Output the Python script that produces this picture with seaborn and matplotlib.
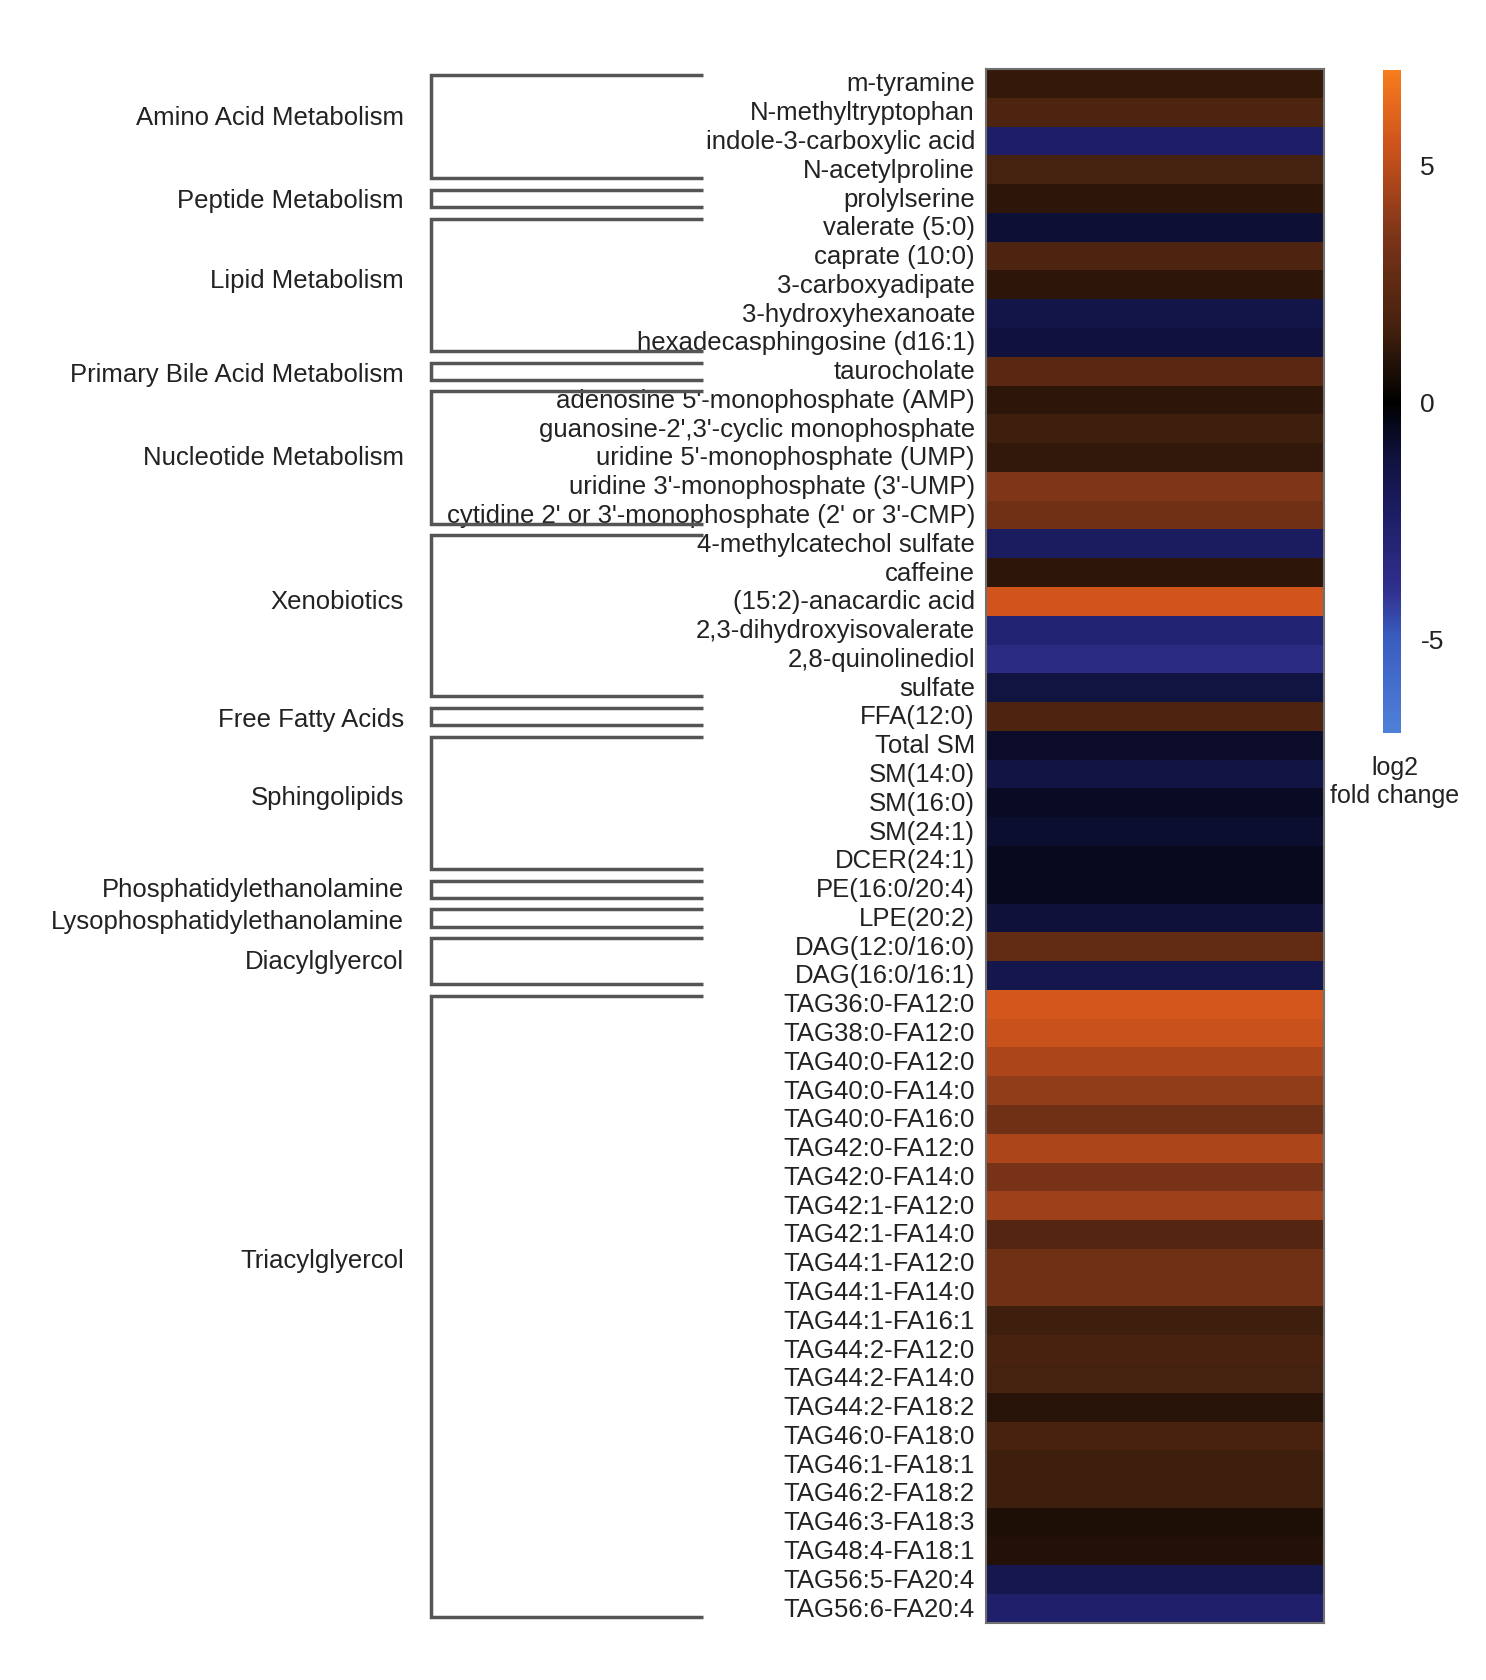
import numpy as np
import pandas as pd
import matplotlib
matplotlib.use('Agg')
import matplotlib.pyplot as plt
from matplotlib.colors import LinearSegmentedColormap
import seaborn as sns

# metabolites in display order (top to bottom)
metabolites = [
    'm-tyramine', 'N-methyltryptophan', 'indole-3-carboxylic acid', 'N-acetylproline',
    'prolylserine',
    'valerate (5:0)', 'caprate (10:0)', '3-carboxyadipate', '3-hydroxyhexanoate',
    'hexadecasphingosine (d16:1)',
    'taurocholate',
    "adenosine 5'-monophosphate (AMP)", "guanosine-2',3'-cyclic monophosphate",
    "uridine 5'-monophosphate (UMP)", "uridine 3'-monophosphate (3'-UMP)",
    "cytidine 2' or 3'-monophosphate (2' or 3'-CMP)",
    '4-methylcatechol sulfate', 'caffeine', '(15:2)-anacardic acid',
    '2,3-dihydroxyisovalerate', '2,8-quinolinediol', 'sulfate',
    'FFA(12:0)',
    'Total SM', 'SM(14:0)', 'SM(16:0)', 'SM(24:1)', 'DCER(24:1)',
    'PE(16:0/20:4)',
    'LPE(20:2)',
    'DAG(12:0/16:0)', 'DAG(16:0/16:1)',
    'TAG36:0-FA12:0', 'TAG38:0-FA12:0', 'TAG40:0-FA12:0', 'TAG40:0-FA14:0',
    'TAG40:0-FA16:0', 'TAG42:0-FA12:0', 'TAG42:0-FA14:0', 'TAG42:1-FA12:0',
    'TAG42:1-FA14:0', 'TAG44:1-FA12:0', 'TAG44:1-FA14:0', 'TAG44:1-FA16:1',
    'TAG44:2-FA12:0', 'TAG44:2-FA14:0', 'TAG44:2-FA18:2', 'TAG46:0-FA18:0',
    'TAG46:1-FA18:1', 'TAG46:2-FA18:2', 'TAG46:3-FA18:3', 'TAG48:4-FA18:1',
    'TAG56:5-FA20:4', 'TAG56:6-FA20:4',
]

# log2 fold change
log2_fc = [
    1.2, 1.9, -2.5, 1.6,
    1.0,
    -1.0, 1.9, 1.0, -1.5, -1.2,
    2.3,
    1.0, 1.4, 1.1, 3.5, 3.1,
    -2.2, 1.0, 5.5, -2.9, -3.6, -1.3,
    1.9,
    -0.8, -1.4, -0.7, -0.9, -0.6,
    -0.6,
    -1.1,
    2.6, -1.6,
    5.6, 5.3, 4.6, 4.0, 3.1, 4.6, 3.3, 4.3, 2.1, 3.1, 3.1, 1.4,
    1.7, 1.6, 0.9, 1.7, 1.4, 1.4, 0.7, 0.8, -1.7, -2.6,
]

group_names = [
    'Amino Acid Metabolism', 'Peptide Metabolism', 'Lipid Metabolism',
    'Primary Bile Acid Metabolism', 'Nucleotide Metabolism', 'Xenobiotics',
    'Free Fatty Acids', 'Sphingolipids', 'Phosphatidylethanolamine',
    'Lysophosphatidylethanolamine', 'Diacylglyercol', 'Triacylglyercol',
]
group_sizes = [4, 1, 5, 1, 5, 6, 1, 5, 1, 1, 2, 22]

# where each group label sits (row units), as placed in the original
label_rows = [1.67, 4.54, 7.33, 10.6, 13.47, 18.5, 22.6, 25.3, 28.5, 29.6, 31.0, 41.4]

sns.set_theme(style='white')
plt.rcParams['font.family'] = ['Liberation Sans', 'DejaVu Sans']

vmin, vmax = -7, 7
nodes = [(-7, '#4f80d8'), (-5, '#3a5cc0'), (-4, '#30308f'), (-2.5, '#1e1e68'),
         (-1.2, '#10123e'), (0, '#000000'), (1.5, '#42200e'), (3.5, '#7c3418'),
         (5.5, '#d0541c'), (7, '#f77c1c')]
cmap = LinearSegmentedColormap.from_list(
    'bo', [((v - vmin) / (vmax - vmin), c) for v, c in nodes])

W, H = 1486, 1681
txt = '#222222'
fig = plt.figure(figsize=(W / 100, H / 100), dpi=100)

hm_left, hm_right, hm_top, hm_bot = 986, 1324, 70, 1624
ax = fig.add_axes([hm_left / W, 1 - hm_bot / H, (hm_right - hm_left) / W, (hm_bot - hm_top) / H])
cax = fig.add_axes([1383 / W, 1 - 734 / H, 18 / W, (734 - 71) / H])

df = pd.DataFrame({'log2FC': log2_fc}, index=metabolites)
sns.heatmap(df, ax=ax, cbar_ax=cax, cmap=cmap, vmin=vmin, vmax=vmax,
            xticklabels=False, yticklabels=True)
ax.set_yticks(np.arange(len(metabolites)) + 0.5)
ax.set_yticklabels(metabolites, rotation=0)
ax.tick_params(axis='y', length=0, pad=8, labelsize=18.5, labelcolor=txt)
ax.set_ylabel('')
for s in ax.spines.values():
    s.set_visible(True)
    s.set_color('#707070')
    s.set_linewidth(1.5)

cbar = ax.collections[0].colorbar
cbar.outline.set_visible(False)
cbar.set_ticks([-5, 0, 5])
cbar.set_ticklabels(['-5', '0', '5'])
cax.tick_params(length=0, pad=14, labelsize=19, labelcolor=txt)
fig.text(1395 / W, 1 - 756 / H, 'log2\nfold change', ha='center', va='top',
         fontsize=18, color=txt, linespacing=1.2)

# group brackets on the left
bax = fig.add_axes([0, 1 - hm_bot / H, hm_left / W, (hm_bot - hm_top) / H])
bax.set_xlim(0, hm_left)
bax.set_ylim(len(metabolites), 0)
bax.axis('off')

start = 0
for name, n, ly in zip(group_names, group_sizes, label_rows):
    y0, y1 = start + 0.2, start + n - 0.2
    bax.plot([703, 431, 431, 703], [y0, y0, y1, y1], color='#555555', lw=2.5,
             solid_joinstyle='miter', solid_capstyle='butt')
    bax.text(404, ly, name, ha='right', va='center', fontsize=18.5, color=txt)
    start += n

fig.savefig('out.png', dpi=100, facecolor='white')
